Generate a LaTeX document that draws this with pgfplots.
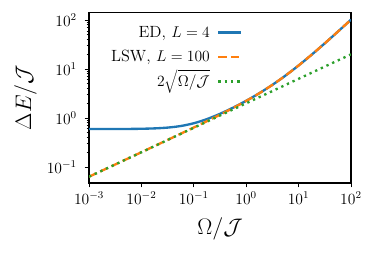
\documentclass[border=0pt]{standalone}
\usepackage{pgfplots}
\pgfplotsset{compat=1.18}
\definecolor{c0}{HTML}{1F77B4}
\definecolor{c1}{HTML}{FF7F0E}
\definecolor{c2}{HTML}{2CA02C}
\begin{document}
\begin{tikzpicture}
\begin{loglogaxis}[
  scale only axis,
  width=201.5pt, height=131.5pt,
  xmin=1e-3, xmax=1e2,
  ymin=0.047, ymax=146,
  tick align=outside,
  xtick pos=bottom, ytick pos=left,
  xminorticks=false,
  xtick={1e-3,1e-2,1e-1,1e0,1e1,1e2},
  ytick={1e-1,1e0,1e1,1e2},
  major tick length=3.3pt, minor tick length=1.9pt,
  every tick/.style={black, line width=0.7pt},
  axis line style={line width=0.9pt},
  tick label style={font=\fontsize{12}{14}\selectfont},
  yticklabel style={xshift=-2.5pt},
  xlabel={$\Omega/\mathcal{J}$},
  ylabel={$\Delta E/\mathcal{J}$},
  label style={font=\fontsize{19}{23}\selectfont},
  xlabel style={at={(axis description cs:0.5,-0.269)}, anchor=center},
  ylabel style={at={(axis description cs:-0.243,0.5)}, anchor=center},
  legend plot pos=right,
  legend cell align=right,
  legend style={draw=none, fill=none, inner sep=0pt, at={(0.584,0.946)}, anchor=north east,
    font=\fontsize{12.5}{15}\selectfont, row sep=1.8pt, column sep=3.7pt,
    nodes={inner sep=2pt, text height=10pt, text depth=3pt}},
  legend image code/.code={\draw[#1] (0pt,0pt) -- (17pt,0pt);},
]
\addplot[c0, line width=1.8pt, smooth] coordinates {
(0.001,0.59523) (0.0017783,0.59556) (0.0031623,0.59632) (0.0056234,0.59811)
(0.01,0.60335) (0.017783,0.61418) (0.031623,0.63749) (0.056234,0.68649)
(0.1,0.78218) (0.17783,0.94962) (0.31623,1.21883) (0.56234,1.62933)
(1,2.25044) (1.7783,3.21252) (3.1623,4.76230) (5.6234,7.35772)
(10,11.8327) (17.783,19.6815) (31.623,33.5633) (56.234,58.1998) (100,101.980)
};
\addlegendentry{ED, $L=4$}
\addplot[c1, line width=1.8pt, dash pattern=on 6.6pt off 2.9pt, smooth] coordinates {
(0.001,0.063254) (0.0017783,0.084358) (0.0031623,0.11251) (0.0056234,0.15009)
(0.01,0.20025) (0.017783,0.26729) (0.031623,0.35706) (0.056234,0.47759)
(0.1,0.64032) (0.17783,0.86193) (0.31623,1.16829) (0.56234,1.60175)
(1,2.23607) (1.7783,3.20553) (3.1623,4.75912) (5.6234,7.35639)
(10,11.8322) (17.783,19.6815) (31.623,33.5633) (56.234,58.1998) (100,101.980)
};
\addlegendentry{LSW, $L=100$}
\addplot[c2, line width=1.8pt, dash pattern=on 1.8pt off 3pt] coordinates {
(0.001,0.063246) (0.0017783,0.084339) (0.0031623,0.11247) (0.0056234,0.14998)
(0.01,0.2) (0.017783,0.26670) (0.031623,0.35566) (0.056234,0.47427)
(0.1,0.63246) (0.17783,0.84339) (0.31623,1.12468) (0.56234,1.49979)
(1,2) (1.7783,2.66704) (3.1623,3.55656) (5.6234,4.74275)
(10,6.32456) (17.783,8.43393) (31.623,11.2468) (56.234,14.9979) (100,20)
};
\addlegendentry{$2\sqrt{\Omega/\mathcal{J}}$}
\coordinate (O) at (rel axis cs:0,0);
\end{loglogaxis}
\path (O) ++(-68.5pt,-54.6pt) rectangle ++(288.5pt,195.4pt);
\end{tikzpicture}
\end{document}
